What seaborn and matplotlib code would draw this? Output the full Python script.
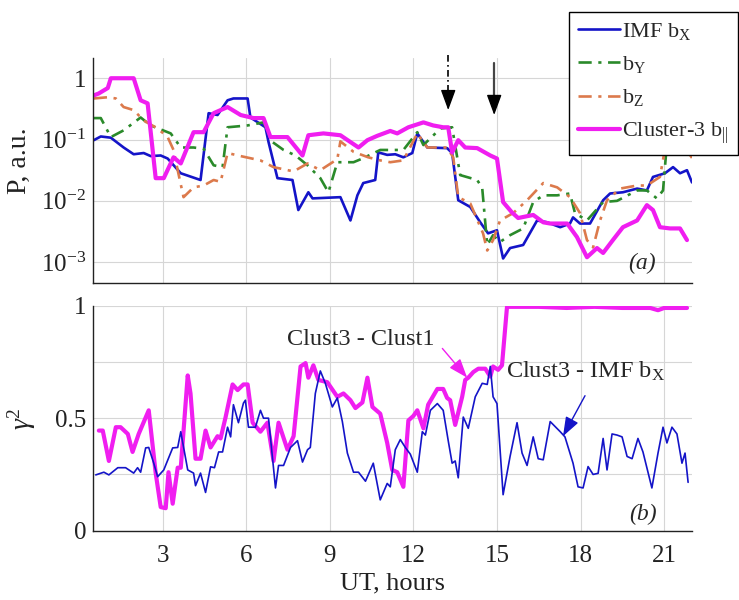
import numpy as np
import pandas as pd
import matplotlib
matplotlib.use("Agg")
import matplotlib.pyplot as plt
import seaborn as sns

# ---------------- data ----------------
# panel (a): spectral power, stored as log10(P)
bx_t = [0.53, 0.78, 1.14, 1.60, 1.96, 2.32, 2.57, 2.93, 3.18, 3.65, 4.36, 4.65, 4.97, 5.33, 5.54,
        6.05, 6.15, 6.69, 6.80, 7.05, 7.12, 7.66, 7.87, 8.23, 8.38, 9.38, 9.74, 9.99, 10.20, 10.63,
        10.74, 11.06, 11.35, 11.64, 11.96, 12.14, 12.50, 13.21, 13.39, 13.61, 14.04, 14.40, 14.68,
        15.00, 15.22, 15.47, 15.94, 16.44, 16.80, 17.27, 17.62, 17.73, 17.98, 18.34, 18.81, 19.06,
        19.52, 20.03, 20.38, 20.60, 21.03, 21.32, 21.57, 21.82, 22.00]
bx_log = [-1.01, -0.95, -0.97, -1.13, -1.24, -1.22, -1.27, -1.26, -1.31, -1.55, -1.66, -0.57, -0.60,
          -0.36, -0.33, -0.33, -0.64, -0.80, -1.04, -1.50, -1.63, -1.66, -2.15, -1.86, -1.96, -1.94,
          -2.32, -1.91, -1.71, -1.66, -1.21, -1.25, -1.24, -1.29, -1.22, -0.90, -1.13, -1.14, -1.22,
          -1.99, -2.10, -2.35, -2.53, -2.48, -2.94, -2.77, -2.72, -2.32, -2.35, -2.43, -2.37, -2.27,
          -2.37, -2.37, -1.99, -1.88, -1.86, -1.80, -1.83, -1.61, -1.55, -1.45, -1.55, -1.50, -1.70]

by_t = [0.53, 0.78, 1.14, 1.60, 2.21, 2.57, 3.29, 3.65, 4.11, 4.47, 4.83, 5.15, 5.33, 6.05, 6.62,
        6.94, 7.34, 7.77, 8.20, 8.66, 8.95, 9.27, 9.85, 10.17, 10.81, 11.64, 12.14, 12.36, 12.97,
        13.39, 13.68, 14.29, 14.47, 14.65, 14.86, 15.11, 15.47, 15.94, 16.30, 16.66, 17.16, 17.62,
        17.80, 18.23, 18.81, 19.31, 20.03, 20.38, 20.74, 20.96, 21.10, 21.50, 22.00]
by_log = [-0.65, -0.65, -0.96, -0.85, -0.64, -0.77, -0.90, -1.13, -1.13, -1.15, -1.42, -1.45, -0.80,
          -0.77, -0.72, -1.04, -1.17, -1.26, -1.42, -1.63, -1.86, -1.37, -1.37, -1.31, -1.17, -1.17,
          -0.88, -1.09, -0.82, -0.80, -1.58, -1.66, -1.79, -2.72, -2.56, -2.67, -2.56, -2.45, -2.02,
          -1.91, -1.91, -1.88, -2.20, -2.32, -2.02, -2.00, -1.83, -1.83, -1.96, -1.83, -1.06, -0.85,
          -0.78]

bz_t = [0.53, 1.03, 1.32, 1.60, 1.96, 2.32, 2.82, 3.18, 3.39, 3.54, 3.75, 4.11, 4.47, 4.83, 5.08,
        5.33, 5.80, 6.51, 6.98, 7.70, 8.20, 8.66, 9.27, 9.38, 9.85, 10.38, 10.81, 11.17, 11.64,
        12.14, 12.50, 13.21, 13.43, 13.61, 14.04, 14.50, 14.65, 14.86, 15.11, 15.58, 16.08, 16.66,
        17.16, 17.62, 17.98, 18.23, 18.45, 18.70, 18.95, 19.42, 20.03, 20.38, 20.85, 21.03, 21.46,
        21.82, 22.00]
bz_log = [-0.33, -0.31, -0.33, -0.47, -0.52, -0.69, -0.82, -0.96, -1.17, -1.50, -1.94, -1.78, -1.75,
          -1.66, -1.69, -1.22, -1.27, -1.34, -1.45, -1.52, -1.39, -1.50, -1.32, -1.03, -1.20, -1.29,
          -1.34, -1.37, -1.34, -0.90, -1.13, -1.13, -1.29, -1.94, -2.04, -2.53, -2.81, -2.64, -2.32,
          -2.20, -1.99, -1.71, -1.78, -1.94, -2.20, -2.64, -2.76, -2.32, -1.99, -1.80, -1.75, -1.75,
          -1.61, -1.15, -1.15, -1.18, -1.30]

bpar_t = [0.53, 0.70, 1.03, 1.14, 1.96, 2.21, 2.46, 2.75, 3.04, 3.39, 3.65, 4.11, 4.47, 4.83, 5.33,
          5.80, 6.26, 6.62, 6.87, 7.48, 8.02, 8.23, 8.77, 9.38, 10.03, 10.35, 10.70, 11.17, 11.42,
          11.82, 12.36, 12.71, 13.07, 13.25, 13.39, 13.61, 13.86, 14.29, 14.76, 15.00, 15.22, 15.54,
          15.76, 16.30, 16.66, 16.91, 17.52, 17.87, 18.23, 18.59, 18.81, 19.16, 19.52, 20.03, 20.38,
          20.60, 20.85, 21.21, 21.57, 21.82]
bpar_log = [-0.28, -0.25, -0.16, 0.0, 0.0, -0.36, -0.41, -1.63, -1.63, -1.29, -1.39, -0.88, -0.88,
            -0.57, -0.47, -0.60, -0.65, -0.65, -0.96, -0.96, -1.26, -0.93, -0.90, -0.93, -1.13, -1.01,
            -0.94, -0.86, -0.90, -0.80, -0.72, -0.77, -0.80, -0.80, -1.21, -1.01, -1.13, -1.14, -1.26,
            -1.31, -2.02, -2.19, -2.28, -2.23, -2.35, -2.37, -2.37, -2.59, -2.92, -2.77, -2.85, -2.64,
            -2.43, -2.32, -2.07, -2.15, -2.43, -2.45, -2.45, -2.64]

# panel (b): squared coherence
coh_bx_t = [0.60, 0.89, 1.07, 1.39, 1.67, 1.96, 2.10, 2.21, 2.39, 2.50, 2.68, 2.82, 3.04, 3.36, 3.54,
            3.65, 3.90, 4.11, 4.18, 4.36, 4.54, 4.72, 4.86, 5.01, 5.15, 5.33, 5.44, 5.54, 5.72, 5.90,
            5.97, 6.08, 6.33, 6.51, 6.62, 6.80, 7.05, 7.16, 7.34, 7.59, 7.84, 8.02, 8.20, 8.30, 8.48,
            8.66, 8.84, 9.09, 9.27, 9.45, 9.63, 9.85, 10.03, 10.28, 10.56, 10.81, 11.06, 11.17, 11.35,
            11.53, 11.71, 11.89, 12.14, 12.32, 12.43, 12.61, 12.86, 13.07, 13.25, 13.39, 13.50, 13.61,
            13.79, 13.97, 14.22, 14.47, 14.65, 14.76, 14.86, 15.00, 15.22, 15.47, 15.72, 15.90, 16.08,
            16.30, 16.48, 16.66, 16.91, 17.27, 17.44, 17.73, 17.91, 18.09, 18.27, 18.45, 18.63, 18.81,
            18.95, 19.13, 19.31, 19.49, 19.67, 19.85, 20.06, 20.24, 20.56, 20.78, 20.96, 21.10, 21.28,
            21.46, 21.64, 21.75, 21.86]
coh_bx = [0.248, 0.26, 0.248, 0.28, 0.28, 0.256, 0.28, 0.26, 0.368, 0.37, 0.30, 0.24, 0.27, 0.368,
          0.37, 0.44, 0.27, 0.256, 0.20, 0.256, 0.17, 0.284, 0.28, 0.35, 0.35, 0.46, 0.417, 0.56,
          0.48, 0.567, 0.58, 0.46, 0.46, 0.535, 0.50, 0.50, 0.19, 0.29, 0.29, 0.37, 0.40, 0.305, 0.36,
          0.37, 0.61, 0.71, 0.655, 0.55, 0.59, 0.485, 0.345, 0.26, 0.26, 0.22, 0.30, 0.137, 0.21,
          0.195, 0.36, 0.405, 0.37, 0.34, 0.26, 0.44, 0.425, 0.535, 0.565, 0.535, 0.40, 0.30, 0.31,
          0.235, 0.505, 0.455, 0.595, 0.655, 0.65, 0.73, 0.595, 0.565, 0.16, 0.33, 0.48, 0.345, 0.29,
          0.417, 0.32, 0.315, 0.485, 0.44, 0.417, 0.30, 0.195, 0.19, 0.285, 0.25, 0.255, 0.41, 0.27,
          0.43, 0.425, 0.417, 0.33, 0.32, 0.41, 0.35, 0.19, 0.345, 0.46, 0.39, 0.46, 0.43, 0.30, 0.345,
          0.215]

coh_cl_t = [0.71, 0.85, 1.07, 1.32, 1.49, 1.75, 1.92, 2.14, 2.50, 2.75, 2.93, 3.11, 3.21, 3.36, 3.54,
            3.65, 3.90, 4.00, 4.18, 4.36, 4.54, 4.72, 4.97, 5.08, 5.26, 5.51, 5.69, 5.90, 6.05, 6.23,
            6.51, 6.76, 6.98, 7.16, 7.48, 7.70, 7.95, 8.13, 8.23, 8.41, 8.59, 8.91, 9.27, 9.49, 9.74,
            9.92, 10.17, 10.35, 10.53, 10.81, 11.06, 11.24, 11.42, 11.64, 11.82, 12.00, 12.14, 12.36,
            12.53, 12.86, 13.07, 13.21, 13.32, 13.50, 13.75, 13.86, 13.97, 14.15, 14.33, 14.58, 14.76,
            14.86, 15.04, 15.18, 15.36, 16.50, 17.50, 18.50, 19.50, 20.50, 20.78, 21.00, 21.50, 21.82]
coh_cl = [0.445, 0.445, 0.31, 0.46, 0.46, 0.43, 0.35, 0.43, 0.535, 0.256, 0.105, 0.10, 0.26, 0.12,
          0.28, 0.28, 0.69, 0.61, 0.32, 0.32, 0.445, 0.37, 0.42, 0.41, 0.505, 0.65, 0.625, 0.65, 0.65,
          0.48, 0.44, 0.48, 0.31, 0.48, 0.36, 0.42, 0.73, 0.745, 0.68, 0.735, 0.67, 0.66, 0.595, 0.61,
          0.58, 0.545, 0.57, 0.68, 0.55, 0.52, 0.39, 0.27, 0.26, 0.195, 0.49, 0.51, 0.535, 0.455, 0.56,
          0.63, 0.63, 0.59, 0.58, 0.47, 0.595, 0.67, 0.68, 0.705, 0.72, 0.72, 0.685, 0.73, 0.715,
          0.735, 0.995, 0.995, 0.99, 0.995, 0.99, 0.99, 0.98, 0.99, 0.99, 0.99]

x_ticks = [3, 6, 9, 12, 15, 18, 21]
p_ticks = [1e-3, 1e-2, 1e-1, 1]
p_tick_labels = [r"$10^{-3}$", r"$10^{-2}$", r"$10^{-1}$", "1"]
g_ticks = [0, 0.25, 0.5, 0.75, 1]
g_tick_labels = ["0", "", "0.5", "", "1"]
arrow_times = {"dashdot": 13.25, "solid": 14.9}

# ---------------- style ----------------
sns.set_theme(style="white")
plt.rcParams["font.family"] = ["Liberation Serif", "DejaVu Serif"]
plt.rcParams["mathtext.fontset"] = "custom"
plt.rcParams["mathtext.rm"] = "Liberation Serif"
plt.rcParams["mathtext.it"] = "Liberation Serif:italic"
plt.rcParams["mathtext.bf"] = "Liberation Serif:bold"

C_BX = "#1414c8"
C_BY = "#2a8a2a"
C_BZ = "#dc7a4c"
C_PAR = "#f01ef0"
DASHDOT = (0, (5, 2.5, 1.2, 2.5))
HEAD = "-|>,head_length=0.9,head_width=0.33"

W, H = 739, 600
fig = plt.figure(figsize=(W / 100, H / 100), dpi=100)
ax_a = fig.add_axes([93 / W, 1 - 283 / H, 599 / W, 225 / H])
ax_b = fig.add_axes([93 / W, 1 - 530.7 / H, 599 / W, 225 / H])

# ---------------- panel (a) ----------------
sns.lineplot(x=bx_t, y=10 ** np.array(bx_log), ax=ax_a, color=C_BX, lw=1.9,
             label=r"IMF b$_{\mathregular{X}}$", legend=False, sort=False, errorbar=None)
sns.lineplot(x=by_t, y=10 ** np.array(by_log), ax=ax_a, color=C_BY, lw=1.9, linestyle=DASHDOT,
             label=r"b$_{\mathregular{Y}}$", legend=False, sort=False, errorbar=None)
sns.lineplot(x=bz_t, y=10 ** np.array(bz_log), ax=ax_a, color=C_BZ, lw=1.9, linestyle=DASHDOT,
             label=r"b$_{\mathregular{Z}}$", legend=False, sort=False, errorbar=None)
sns.lineplot(x=bpar_t, y=10 ** np.array(bpar_log), ax=ax_a, color=C_PAR, lw=3.0,
             label=r"Cluster-3 b$_{||}$", legend=False, sort=False, errorbar=None)
ax_a.set_yscale("log")
ax_a.set_ylim(10 ** -3.34, 10 ** 0.33)
ax_a.set_yticks(p_ticks)
ax_a.set_yticklabels(p_tick_labels)
ax_a.yaxis.set_minor_locator(matplotlib.ticker.NullLocator())
ax_a.set_xticks(x_ticks)
ax_a.set_xticklabels([])
ax_a.set_ylabel("P, a.u.", fontsize=20)
ax_a.yaxis.set_label_coords(-0.102, 0.544)
ax_a.text(0.916, 0.089, "(a)", transform=ax_a.transAxes, fontsize=17, style="italic",
          ha="center", va="center")

# event markers above panel (a)
t_dd = arrow_times["dashdot"]
ax_a.plot([t_dd, t_dd], [10 ** 0.375, 10 ** -0.26], color="black", lw=1.2,
          linestyle=(0, (4, 2, 1, 2)), clip_on=False)
ax_a.annotate("", xy=(t_dd, 10 ** -0.52), xytext=(t_dd, 10 ** -0.24), annotation_clip=False,
              arrowprops=dict(arrowstyle=HEAD, color="black", lw=1.0, shrinkA=0, shrinkB=0,
                              mutation_scale=14))
t_s = arrow_times["solid"]
ax_a.plot([t_s, t_s], [10 ** 0.245, 10 ** -0.34], color="#444444", lw=1.6, clip_on=False)
ax_a.annotate("", xy=(t_s, 10 ** -0.60), xytext=(t_s, 10 ** -0.32), annotation_clip=False,
              arrowprops=dict(arrowstyle=HEAD, color="black", lw=1.0, shrinkA=0, shrinkB=0,
                              mutation_scale=14))

# ---------------- panel (b) ----------------
sns.lineplot(x=coh_cl_t, y=coh_cl, ax=ax_b, color=C_PAR, lw=3.0, legend=False, sort=False,
             errorbar=None)
sns.lineplot(x=coh_bx_t, y=coh_bx, ax=ax_b, color=C_BX, lw=1.2, legend=False, sort=False,
             errorbar=None)
ax_b.set_ylim(0, 1)
ax_b.set_yticks(g_ticks)
ax_b.set_yticklabels(g_tick_labels)
ax_b.set_xticks(x_ticks)
ax_b.set_xlabel("UT, hours", fontsize=19, labelpad=4)
ax_b.set_ylabel(r"$\gamma^2$", fontsize=20)
ax_b.yaxis.set_label_coords(-0.092, 0.496)
ax_b.text(0.918, 0.07, "(b)", transform=ax_b.transAxes, fontsize=17, style="italic",
          ha="center", va="center")

ax_b.text(7.48, 0.825, "Clust3 - Clust1", fontsize=17.5, ha="left", va="baseline")
ax_b.annotate("", xy=(13.93, 0.68), xytext=(13.04, 0.81),
              arrowprops=dict(arrowstyle=HEAD, color=C_PAR, lw=1.0, shrinkA=0, shrinkB=0,
                              mutation_scale=13))
ax_b.text(15.33, 0.678, r"Clust3 - IMF b$_{\mathregular{X}}$", fontsize=17.5, ha="left",
          va="baseline")
ax_b.annotate("", xy=(17.37, 0.42), xytext=(18.16, 0.60),
              arrowprops=dict(arrowstyle=HEAD, color=C_BX, lw=1.0, shrinkA=0, shrinkB=0,
                              mutation_scale=13))

# ---------------- shared axis cosmetics ----------------
for ax in (ax_a, ax_b):
    ax.set_xlim(0.5, 22)
    ax.grid(True, color="#d6d6d6", lw=0.8)
    ax.set_axisbelow(True)
    sns.despine(ax=ax)
    for side in ("left", "bottom"):
        ax.spines[side].set_color("#222222")
        ax.spines[side].set_linewidth(1.0)
    ax.tick_params(axis="both", which="major", direction="in", length=6, width=1.0,
                   labelsize=18, colors="#222222")
    ax.tick_params(axis="x", pad=10)
    ax.tick_params(axis="y", pad=5)
    ax.yaxis.label.set_color("#222222")
    ax.xaxis.label.set_color("#222222")

handles, labels = ax_a.get_legend_handles_labels()
leg = fig.legend(handles, labels, loc="upper right", bbox_to_anchor=(737.5 / W, 1 - 12 / H),
                 fontsize=16, frameon=True, fancybox=False, framealpha=1, edgecolor="black",
                 handlelength=1.9, handletextpad=0.1, borderpad=0.4, labelspacing=0.55,
                 borderaxespad=0)
leg.get_frame().set_linewidth(1.0)

fig.savefig("out.png", dpi=100)
